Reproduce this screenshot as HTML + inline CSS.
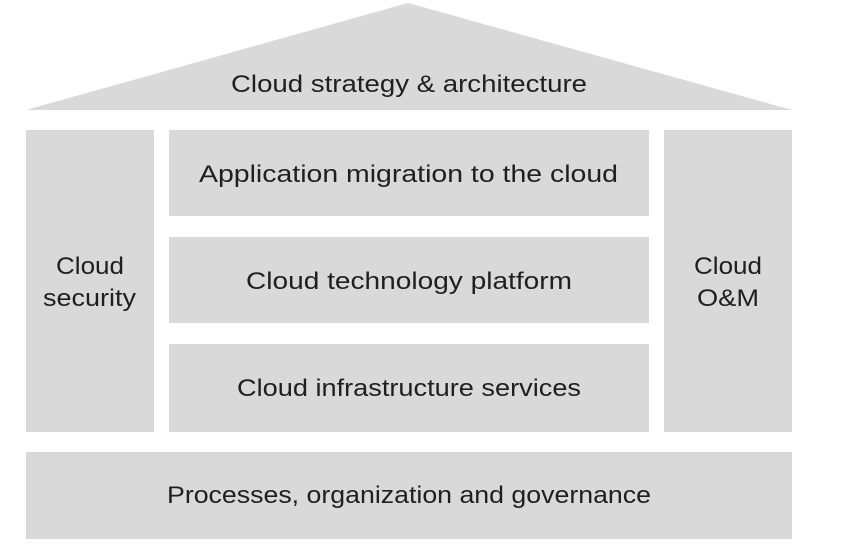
<!DOCTYPE html>
<html><head><style>html,body{margin:0;padding:0;background:#fff;}</style></head>
<body>
<svg width="862" height="555" viewBox="0 0 862 555" xmlns="http://www.w3.org/2000/svg" style="display:block">
<g fill="#d9d9d9">
<polygon points="26,110 408,3 792,110"/>
<rect x="26" y="130" width="128" height="302"/>
<rect x="664" y="130" width="128" height="302"/>
<rect x="169" y="130" width="480" height="86"/>
<rect x="169" y="237" width="480" height="86"/>
<rect x="169" y="344" width="480" height="88"/>
<rect x="26" y="452" width="766" height="87"/>
</g>
<g font-family="Liberation Sans, sans-serif" font-size="24" fill="#1f1f1f" text-anchor="middle" lengthAdjust="spacingAndGlyphs">
<text x="409" y="92" textLength="356" lengthAdjust="spacingAndGlyphs">Cloud strategy &amp; architecture</text>
<text x="408.5" y="182" textLength="419" lengthAdjust="spacingAndGlyphs">Application migration to the cloud</text>
<text x="409" y="289" textLength="326" lengthAdjust="spacingAndGlyphs">Cloud technology platform</text>
<text x="409" y="396" textLength="344" lengthAdjust="spacingAndGlyphs">Cloud infrastructure services</text>
<text x="409" y="503" textLength="484" lengthAdjust="spacingAndGlyphs">Processes, organization and governance</text>
<text x="90" y="274" textLength="68" lengthAdjust="spacingAndGlyphs">Cloud</text>
<text x="89.5" y="306" textLength="93" lengthAdjust="spacingAndGlyphs">security</text>
<text x="728" y="274" textLength="68" lengthAdjust="spacingAndGlyphs">Cloud</text>
<text x="728" y="306" textLength="62" lengthAdjust="spacingAndGlyphs">O&amp;M</text>
</g>
</svg>
</body></html>
